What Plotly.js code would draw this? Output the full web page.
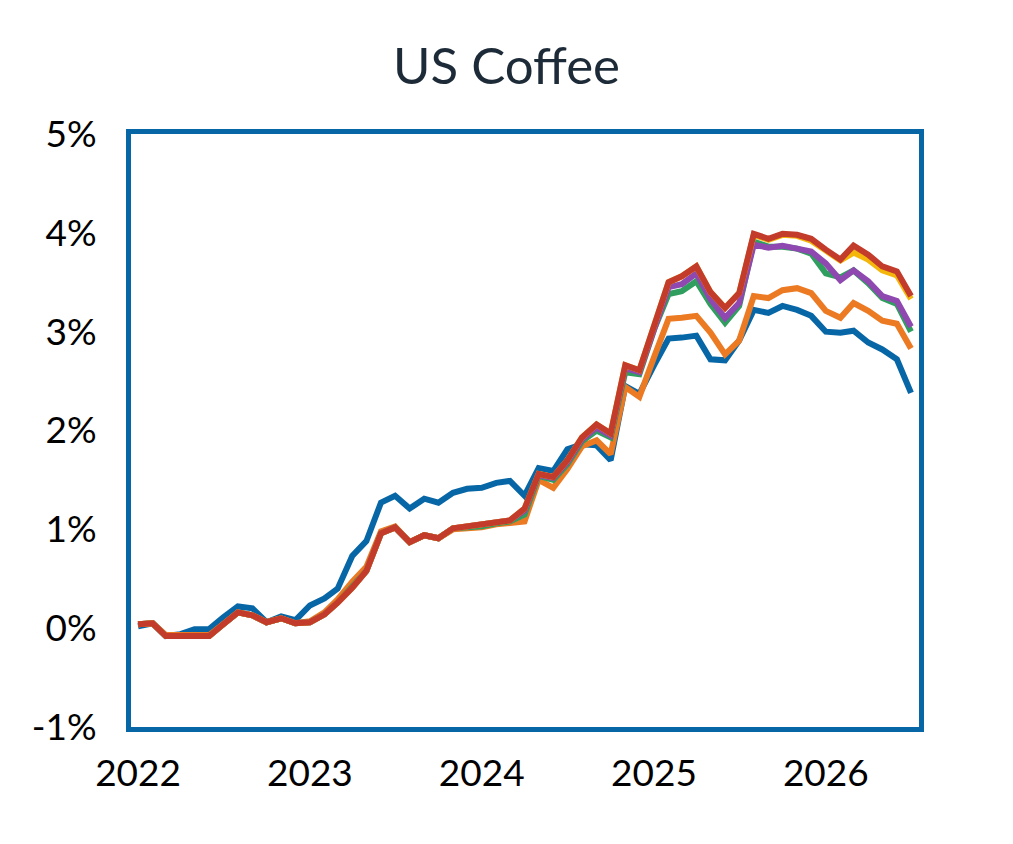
<!DOCTYPE html>
<html>
<head>
<meta charset="utf-8">
<script src="https://cdn.plot.ly/plotly-3.0.1.min.js"></script>
<style>html,body{margin:0;padding:0;background:#fff;}#chart{width:1013px;height:844px;}</style>
</head>
<body>
<div id="chart"></div>
<script>
// Monthly dates Jan 2022 .. Jul 2026
var months = [];
for (var y = 2022; y <= 2026; y++) {
  for (var m = 1; m <= 12; m++) {
    if (y === 2026 && m > 7) break;
    months.push(y + '-' + (m < 10 ? '0' + m : m) + '-01');
  }
}

var seriesBlue = [0.02,0.05,-0.08,-0.06,-0.01,-0.01,0.11,0.22,0.20,0.06,0.12,0.08,
  0.23,0.30,0.40,0.73,0.88,1.27,1.34,1.21,1.31,1.27,1.37,1.41,
  1.42,1.47,1.49,1.34,1.62,1.59,1.81,1.86,1.85,1.70,2.45,2.37,
  2.66,2.93,2.94,2.96,2.72,2.71,2.91,3.22,3.19,3.26,3.22,3.16,
  3.00,2.99,3.01,2.89,2.82,2.72,2.38];

var seriesOrange = [0.04,0.05,-0.07,-0.07,-0.06,-0.07,0.04,0.16,0.13,0.06,0.10,0.05,
  0.07,0.16,0.29,0.47,0.62,0.98,1.03,0.87,0.94,0.91,1.00,1.01,
  1.02,1.05,1.06,1.08,1.50,1.42,1.61,1.84,1.90,1.76,2.44,2.34,
  2.74,3.13,3.14,3.16,2.99,2.77,2.91,3.36,3.34,3.42,3.44,3.39,
  3.21,3.14,3.29,3.21,3.11,3.08,2.83];

var seriesGreen = [0.04,0.05,-0.08,-0.08,-0.07,-0.08,0.04,0.16,0.13,0.06,0.10,0.05,
  0.06,0.14,0.26,0.42,0.58,0.96,1.02,0.87,0.94,0.91,1.01,1.02,
  1.03,1.06,1.08,1.15,1.54,1.50,1.66,1.89,2.00,1.93,2.59,2.57,
  3.02,3.38,3.41,3.51,3.28,3.09,3.26,3.91,3.86,3.86,3.84,3.79,
  3.59,3.55,3.62,3.49,3.34,3.28,3.00];

var seriesPurple = [0.04,0.05,-0.08,-0.08,-0.07,-0.08,0.04,0.16,0.13,0.06,0.10,0.05,
  0.06,0.14,0.26,0.41,0.58,0.96,1.02,0.87,0.94,0.91,1.01,1.03,
  1.04,1.07,1.09,1.19,1.55,1.52,1.68,1.91,2.03,1.95,2.63,2.59,
  3.04,3.45,3.48,3.59,3.33,3.14,3.29,3.88,3.85,3.87,3.84,3.81,
  3.69,3.52,3.62,3.51,3.36,3.31,3.05];

var seriesYellow = [0.04,0.05,-0.08,-0.08,-0.07,-0.08,0.04,0.16,0.13,0.06,0.10,0.05,
  0.06,0.14,0.26,0.41,0.58,0.96,1.02,0.87,0.94,0.91,1.01,1.03,
  1.04,1.07,1.09,1.21,1.56,1.53,1.70,1.93,2.06,1.97,2.66,2.61,
  3.06,3.50,3.56,3.66,3.40,3.24,3.39,3.98,3.93,3.98,3.97,3.92,
  3.82,3.72,3.80,3.73,3.62,3.57,3.33];

var seriesRed = [0.04,0.05,-0.08,-0.08,-0.07,-0.08,0.04,0.16,0.13,0.06,0.10,0.05,
  0.06,0.14,0.26,0.41,0.58,0.96,1.02,0.87,0.94,0.91,1.01,1.03,
  1.04,1.07,1.09,1.21,1.56,1.53,1.70,1.93,2.06,1.97,2.66,2.61,
  3.06,3.50,3.56,3.66,3.40,3.24,3.39,3.99,3.94,3.99,3.98,3.94,
  3.83,3.73,3.87,3.78,3.66,3.61,3.36];

var yTickVals = [-1,0,1,2,3,4,5];
var yTickText = ['-1%','0%','1%','2%','3%','4%','5%'];

var names = ['Series 1','Series 2','Series 3','Series 4','Series 5','Series 6'];
var allSeries = [seriesBlue, seriesOrange, seriesGreen, seriesPurple, seriesYellow, seriesRed];
var colors = ['#0766a6','#ec7a22','#2f9e5e','#8e48b0','#f5b60c','#c23b2b'];

var traces = allSeries.map(function(s, i) {
  return {x: months, y: s, type: 'scatter', mode: 'lines', name: names[i],
    line: {color: colors[i], width: 6}, hoverinfo: 'x+y'};
});

var font = "Lato, 'Open Sans', sans-serif";
var layout = {
  width: 1013, height: 844,
  margin: {l: 131, r: 94, t: 134, b: 117},
  paper_bgcolor: '#fff', plot_bgcolor: '#fff',
  showlegend: false,
  title: {text: 'US Coffee', x: 0.5, xref: 'container', y: 0.922, yref: 'container', yanchor: 'middle',
    font: {family: font, size: 51, color: '#1d2b38'}},
  xaxis: {type: 'date', range: ['2021-12-17', '2026-07-18'],
    tick0: '2022-01-01', dtick: 'M12', tickformat: '%Y',
    showgrid: false, zeroline: false,
    showline: true, mirror: true, linecolor: '#0766a6', linewidth: 5,
    ticks: '', ticklabelstandoff: 10,
    tickfont: {family: font, size: 37, color: '#000'}},
  yaxis: {range: [-1, 5], tickvals: yTickVals, ticktext: yTickText,
    showgrid: false, zeroline: false,
    showline: true, mirror: true, linecolor: '#0766a6', linewidth: 5,
    ticks: '', ticklabelstandoff: 22,
    tickfont: {family: font, size: 37, color: '#000'}}
};

Plotly.newPlot('chart', traces, layout, {displayModeBar: false, staticPlot: true});
</script>
</body>
</html>
